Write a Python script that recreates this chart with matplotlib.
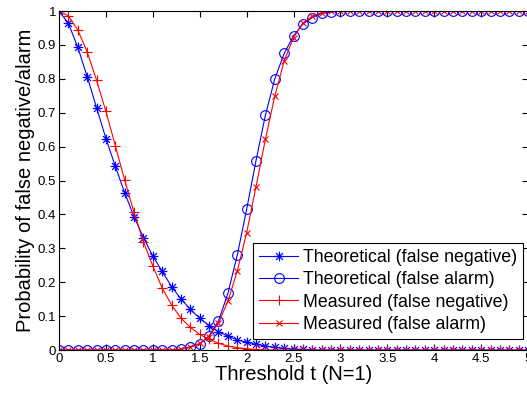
import numpy as np
import matplotlib
matplotlib.use('Agg')
import matplotlib.pyplot as plt
from matplotlib.path import Path

plt.rcParams['font.family'] = ['Liberation Sans', 'DejaVu Sans']

# threshold values (0 .. 5 step 0.1)
t = np.round(np.arange(0, 5.01, 0.1), 1)

# theoretical false negative (blue *)
theo_fn_head = [1.0, 0.964, 0.893, 0.807, 0.715, 0.624, 0.542, 0.464, 0.393, 0.332,
                0.277, 0.232, 0.187, 0.151, 0.120, 0.094, 0.072, 0.054, 0.041, 0.030,
                0.023, 0.017, 0.012, 0.008, 0.005, 0.003, 0.002, 0.001]
# theoretical false alarm (blue o)
theo_fa_head = [0.0] * 13 + [0.002, 0.010, 0.018, 0.042, 0.086, 0.167, 0.280,
                             0.415, 0.559, 0.693, 0.800, 0.875, 0.927, 0.962, 0.981,
                             0.993, 0.997]
# measured false negative (red +)
meas_fn_head = [1.0, 0.986, 0.944, 0.880, 0.796, 0.704, 0.603, 0.501, 0.406, 0.319,
                0.248, 0.183, 0.133, 0.094, 0.067, 0.046, 0.032, 0.020, 0.012, 0.007,
                0.004, 0.002]
# measured false alarm (red x)
meas_fa_head = [0.0] * 12 + [0.001, 0.003, 0.008, 0.020, 0.040, 0.080, 0.144, 0.233,
                             0.346, 0.482, 0.622, 0.749, 0.853, 0.922, 0.965, 0.985,
                             0.995]

n = len(t)
theo_fn = np.array(theo_fn_head + [0.0] * (n - len(theo_fn_head)))
theo_fa = np.array(theo_fa_head + [1.0] * (n - len(theo_fa_head)))
meas_fn = np.array(meas_fn_head + [0.0] * (n - len(meas_fn_head)))
meas_fa = np.array(meas_fa_head + [1.0] * (n - len(meas_fa_head)))

yticks = [0, 0.1, 0.2, 0.3, 0.4, 0.5, 0.6, 0.7, 0.8, 0.9, 1]
ytick_labels = ['0', '0.1', '0.2', '0.3', '0.4', '0.5', '0.6', '0.7', '0.8', '0.9', '1']
xticks = [0, 0.5, 1, 1.5, 2, 2.5, 3, 3.5, 4, 4.5, 5]
xtick_labels = ['0', '0.5', '1', '1.5', '2', '2.5', '3', '3.5', '4', '4.5', '5']

# matlab style asterisk: + and x drawn together
d = 0.7071
star = Path([(-1, 0), (1, 0), (0, -1), (0, 1), (-d, -d), (d, d), (-d, d), (d, -d)],
            [Path.MOVETO, Path.LINETO] * 4)

fig = plt.figure(figsize=(5.27, 3.96), dpi=100)
ax = fig.add_axes([0.112, 0.116, 0.890, 0.856])

lw = 0.8
ax.plot(t, theo_fn, color='blue', marker=star, ms=7, mfc='none', mew=0.9, lw=lw,
        label='Theoretical (false negative)')
ax.plot(t, theo_fa, color='blue', marker='o', ms=7, mfc='none', mew=0.8, lw=lw,
        label='Theoretical (false alarm)')
ax.plot(t, meas_fn, color='red', marker='+', ms=7, mew=0.8, lw=lw,
        label='Measured (false negative)')
ax.plot(t, meas_fa, color='red', marker='x', ms=4, mew=0.8, lw=lw,
        label='Measured (false alarm)')

ax.set_xlim(0, 5)
ax.set_ylim(0, 1)
ax.set_xticks(xticks)
ax.set_xticklabels(xtick_labels)
ax.set_yticks(yticks)
ax.set_yticklabels(ytick_labels)
ax.tick_params(direction='in', top=True, right=True, labelsize=9.5, pad=2, length=4)
for s in ax.spines.values():
    s.set_linewidth(0.8)

ax.set_xlabel('Threshold t (N=1)', fontsize=14.5, labelpad=0)
ax.set_ylabel('Probability of false negative/alarm', fontsize=14.5, labelpad=2)

leg = ax.legend(loc='lower right', bbox_to_anchor=(0.989, 0.032), fontsize=12.8,
                fancybox=False, framealpha=1, edgecolor='black', borderpad=0.35,
                labelspacing=0.3, handlelength=2.2, handletextpad=0.25,
                borderaxespad=0)
leg.get_frame().set_linewidth(0.8)

fig.savefig('out.png', dpi=100)
